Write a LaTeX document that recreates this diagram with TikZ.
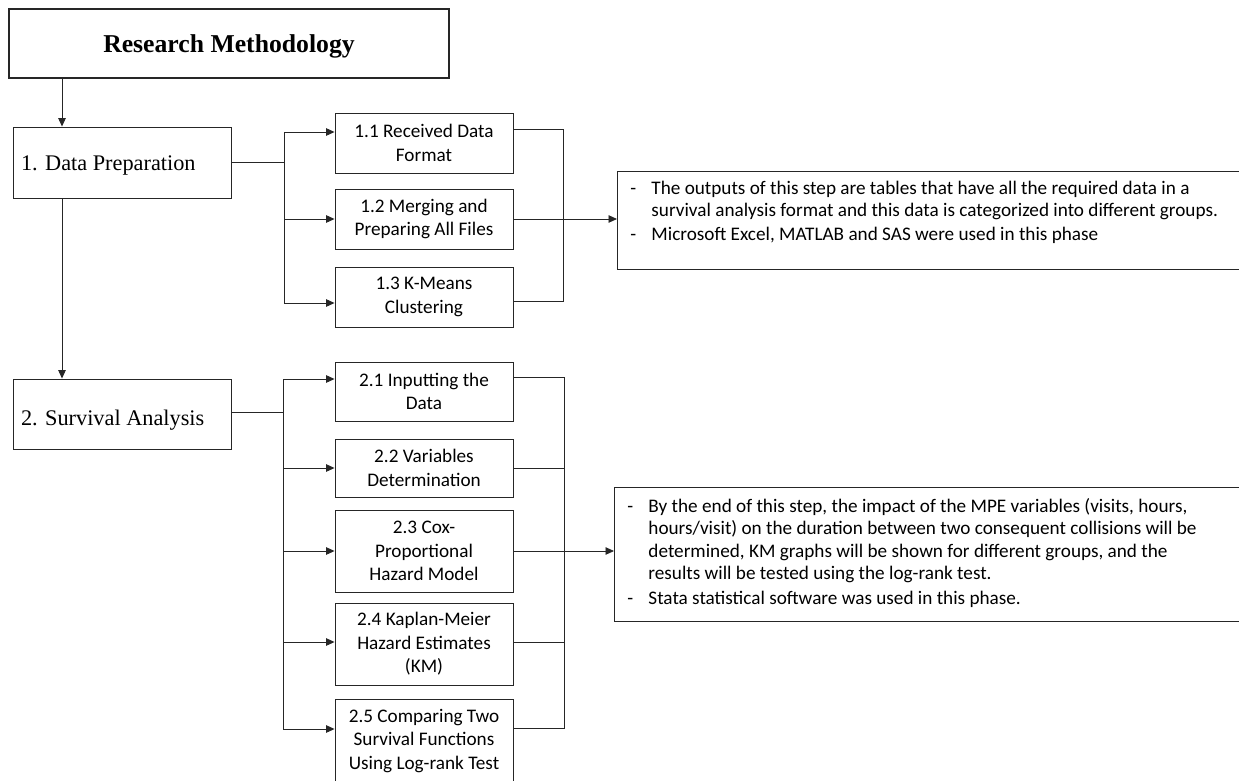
\documentclass[tikz,border=0pt]{standalone}
\usepackage{fontspec}
\setmainfont{Liberation Serif}
\newfontfamily\calfont{Carlito}
\usetikzlibrary{arrows.meta}
\newcommand{\dashitem}[1]{\hangindent=21pt\hangafter=1\makebox[21pt][l]{-}#1\par}
\begin{document}
\begin{tikzpicture}[x=1pt,y=-1pt,
  box/.style={draw=black!85, line width=0.9pt, inner sep=0pt, rectangle},
  mainbox/.style={box, minimum width=218pt, minimum height=71pt, text width=202pt, align=flush left, font=\fontsize{22.3}{26}\selectfont},
  subbox/.style={box, minimum width=178pt, text width=172pt, align=flush center, font=\calfont\fontsize{19.2}{23.5}\selectfont},
  textbox/.style={box, anchor=north west},
  arr/.style={-{Triangle[length=8.5pt,width=7.5pt]}, line width=0.9pt, draw=black!85},
  conn/.style={line width=0.9pt, draw=black!85}
]
\useasboundingbox (0,0) rectangle (1239,781);
\clip (0,0) rectangle (1239,781);

% title
\node[box, line width=2.2pt, minimum width=440pt, minimum height=69pt, text height=18pt, text depth=0pt,
      font=\bfseries\fontsize{25.7}{30}\selectfont] (title) at (229,43.5) {Research Methodology};

% main boxes
\node[mainbox, text height=16.5pt, text depth=0pt] (dp) at (122,162.5) {1. Data Preparation};
\node[mainbox, minimum height=70pt, text height=22pt, text depth=0pt] (sa) at (122,414) {2. Survival Analysis};

% section 1 sub boxes
\node[subbox, minimum height=60pt] (s11) at (424,143) {1.1 Received Data\\Format};
\node[subbox, minimum height=60pt] (s12) at (424,219) {1.2 Merging and\\Preparing All Files};
\node[subbox, minimum height=60pt] (s13) at (424,297) {1.3 K-Means\\Clustering};

% section 2 sub boxes
\node[subbox, minimum height=59pt] (s21) at (424,391.5) {2.1 Inputting the\\Data};
\node[subbox, minimum height=58pt] (s22) at (424,468) {2.2 Variables\\Determination};
\node[subbox, minimum height=82pt] (s23) at (424,551) {2.3 Cox-\\Proportional\\Hazard Model};
\node[subbox, minimum height=82pt] (s24) at (424,644) {2.4 Kaplan-Meier\\Hazard Estimates\\(KM)};
\node[subbox, minimum height=84pt] (s25) at (424,741) {2.5 Comparing Two\\Survival Functions\\Using Log-rank Test};

% right text boxes
\node[textbox] (r1) at (617,171) {\parbox[c][98pt][t]{633pt}{%
  \calfont\fontsize{19.2}{22}\selectfont\parindent=0pt\leftskip=13pt\rightskip=0pt plus 1fil
  \vspace*{8pt}\strut
  \dashitem{The outputs of this step are tables that have all the required data in a\newline survival analysis format and this data is categorized into different groups.}
  \vspace{1.5pt}
  \dashitem{Microsoft Excel, MATLAB and SAS were used in this phase}}};

\node[textbox] (r2) at (614,487) {\parbox[c][134pt][t]{636pt}{%
  \calfont\fontsize{19.2}{22.5}\selectfont\parindent=0pt\leftskip=13pt\rightskip=0pt plus 1fil
  \vspace*{9pt}\strut
  \dashitem{By the end of this step, the impact of the MPE variables (visits, hours,\newline hours/visit) on the duration between two consequent collisions will be\newline determined, KM graphs will be shown for different groups, and the\newline results will be tested using the log-rank test.}
  \vspace{2pt}
  \dashitem{Stata statistical software was used in this phase.}}};

% coordinates
\coordinate (ax) at (62,0);
\coordinate (b1) at (284,0);
\coordinate (c1) at (563,0);
\coordinate (b2) at (283,0);
\coordinate (c2) at (564,0);

% vertical main arrows
\draw[arr] (title.south -| ax) -- (dp.north -| ax);
\draw[arr] (dp.south -| ax) -- (sa.north -| ax);

% section 1 connectors
\coordinate (l11) at ([yshift=11pt]s11.west);
\coordinate (l13) at ([yshift=-6pt]s13.west);
\coordinate (e11) at ([yshift=14pt]s11.east);
\coordinate (e13) at ([yshift=-4pt]s13.east);
\draw[conn] (dp.east) -- (dp.east -| b1);
\draw[conn] (l11 -| b1) -- (l13 -| b1);
\draw[arr] (l11 -| b1) -- (l11);
\draw[arr] (s12.west -| b1) -- (s12.west);
\draw[arr] (l13 -| b1) -- (l13);
\draw[conn] (e11) -| (e13 -| c1) -- (e13);
\draw[arr] (s12.east) -- (r1.west |- s12.east);

% section 2 connectors
\coordinate (sae) at ([yshift=2pt]sa.east);
\coordinate (l21) at ([yshift=12.5pt]s21.west);
\coordinate (e21) at ([yshift=14.5pt]s21.east);
\coordinate (l24) at ([yshift=2pt]s24.west);
\coordinate (e24) at ([yshift=2pt]s24.east);
\coordinate (l25) at ([yshift=12pt]s25.west);
\coordinate (e25) at ([yshift=13pt]s25.east);
\draw[conn] (sae) -- (sae -| b2);
\draw[conn] (l21 -| b2) -- (l25 -| b2);
\draw[arr] (l21 -| b2) -- (l21);
\draw[arr] (s22.west -| b2) -- (s22.west);
\draw[arr] (s23.west -| b2) -- (s23.west);
\draw[arr] (l24 -| b2) -- (l24);
\draw[arr] (l25 -| b2) -- (l25);
\draw[conn] (e21) -| (e25 -| c2) -- (e25);
\draw[conn] (s22.east) -- (s22.east -| c2);
\draw[conn] (e24) -- (e24 -| c2);
\draw[arr] (s23.east) -- (r2.west |- s23.east);
\end{tikzpicture}
\end{document}
